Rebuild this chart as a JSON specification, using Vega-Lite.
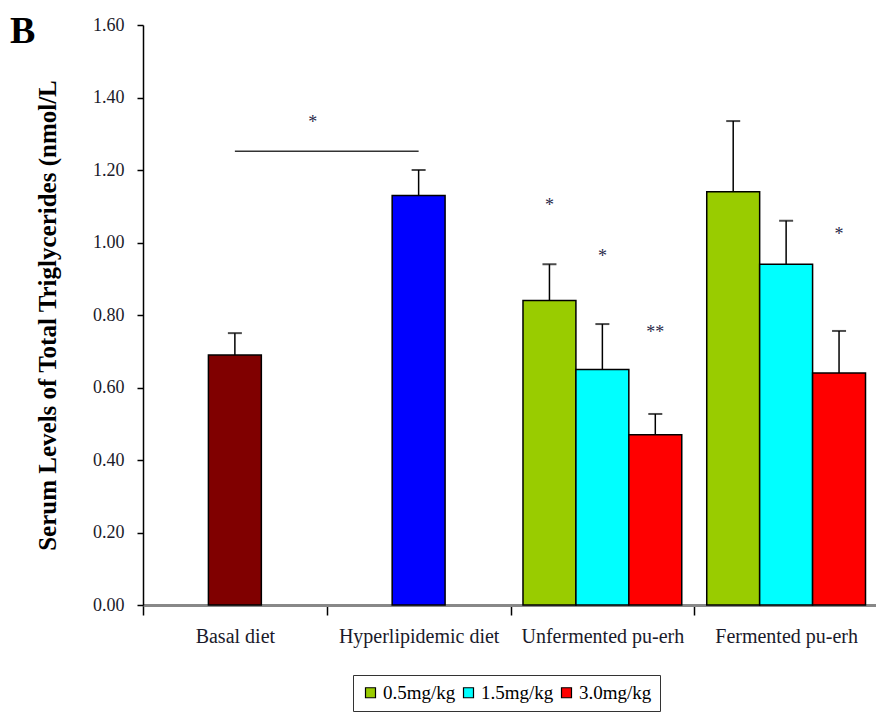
{
  "$schema": "https://vega.github.io/schema/vega-lite/v6.json",
  "width": 735,
  "height": 580,
  "autosize": {"type": "none"},
  "padding": {"left": 143, "top": 25, "right": 0, "bottom": 111},
  "background": "white",
  "title": {"text": "B", "font": "Liberation Serif", "fontSize": 38, "fontWeight": "bold", "anchor": "start", "frame": "group", "dx": -133, "offset": -73, "baseline": "bottom", "color": "#000"},
  "config": {
    "view": {"stroke": null},
    "font": "Liberation Serif",
    "axis": {"labelFont": "Liberation Serif", "titleFont": "Liberation Serif", "labelColor": "#1a1a2a", "grid": false}
  },
  "datasets": {
    "bars": [
      {"group": "Basal diet", "slot": "b", "series": "Basal", "value": 0.69, "upper": 0.75},
      {"group": "Hyperlipidemic diet", "slot": "b", "series": "Hyper", "value": 1.13, "upper": 1.2},
      {"group": "Unfermented pu-erh", "slot": "a", "series": "0.5mg/kg", "value": 0.84, "upper": 0.94},
      {"group": "Unfermented pu-erh", "slot": "b", "series": "1.5mg/kg", "value": 0.65, "upper": 0.775},
      {"group": "Unfermented pu-erh", "slot": "c", "series": "3.0mg/kg", "value": 0.47, "upper": 0.527},
      {"group": "Fermented pu-erh", "slot": "a", "series": "0.5mg/kg", "value": 1.14, "upper": 1.335},
      {"group": "Fermented pu-erh", "slot": "b", "series": "1.5mg/kg", "value": 0.94, "upper": 1.06},
      {"group": "Fermented pu-erh", "slot": "c", "series": "3.0mg/kg", "value": 0.64, "upper": 0.756}
    ],
    "stars": [
      {"group": "Unfermented pu-erh", "slot": "a", "label": "*", "y": 1.1},
      {"group": "Unfermented pu-erh", "slot": "b", "label": "*", "y": 0.96},
      {"group": "Unfermented pu-erh", "slot": "c", "label": "**", "y": 0.75},
      {"group": "Fermented pu-erh", "slot": "c", "label": "*", "y": 1.02}
    ],
    "bracket": [
      {"from": "Basal diet", "to": "Hyperlipidemic diet", "y": 1.252, "label": "*", "ly": 1.33}
    ]
  },
  "layer": [
    {
      "data": {"name": "bars"},
      "mark": {"type": "bar", "stroke": "#000", "strokeWidth": 1.5},
      "encoding": {
        "x": {"field": "group", "type": "nominal",
          "scale": {"domain": ["Basal diet", "Hyperlipidemic diet", "Unfermented pu-erh", "Fermented pu-erh"], "paddingInner": 0, "paddingOuter": 0},
          "axis": {"title": null, "labelAngle": 0, "labelFontSize": 20, "labelPadding": 11, "tickBand": "extent", "tickSize": 10, "tickColor": "#000", "tickWidth": 1.5, "domainColor": "#888", "domainWidth": 3, "labelColor": "#1a1a2a"}},
        "xOffset": {"field": "slot", "type": "nominal", "scale": {"domain": ["a", "b", "c"], "paddingInner": 0, "paddingOuter": 0.236}},
        "y": {"field": "value", "type": "quantitative",
          "scale": {"domain": [0, 1.6], "nice": false},
          "axis": {"title": "Serum Levels of Total Triglycerides (nmol/L", "titleFontSize": 25, "titleFontWeight": "bold", "titleColor": "#000", "titlePadding": 32,
            "values": [0, 0.2, 0.4, 0.6, 0.8, 1.0, 1.2, 1.4, 1.6], "format": ".2f", "labelFontSize": 18, "labelPadding": 13,
            "tickSize": 6, "tickColor": "#000", "tickWidth": 1.5, "domainColor": "#000", "domainWidth": 1.5}},
        "color": {"field": "series", "type": "nominal",
          "scale": {"domain": ["Basal", "Hyper", "0.5mg/kg", "1.5mg/kg", "3.0mg/kg"], "range": ["#800000", "#0000FF", "#99CC00", "#00FFFF", "#FF0000"]},
          "legend": {"values": ["0.5mg/kg", "1.5mg/kg", "3.0mg/kg"], "title": null, "orient": "none", "legendX": 210, "legendY": 650, "direction": "horizontal",
            "symbolType": "square", "symbolSize": 100, "symbolStrokeColor": "#000", "symbolStrokeWidth": 1.2, "labelFont": "Liberation Serif", "labelFontSize": 19, "labelColor": "#000",
            "strokeColor": "#333", "padding": 8, "columnPadding": 3, "symbolOffset": 0, "labelOffset": 3}}
      }
    },
    {
      "data": {"name": "bars"},
      "mark": {"type": "rule", "color": "#000", "strokeWidth": 1.5},
      "encoding": {
        "x": {"field": "group", "type": "nominal"},
        "xOffset": {"field": "slot", "type": "nominal"},
        "y": {"field": "value", "type": "quantitative"},
        "y2": {"field": "upper"}
      }
    },
    {
      "data": {"name": "bars"},
      "mark": {"type": "tick", "color": "#000", "thickness": 2, "size": 14, "orient": "horizontal"},
      "encoding": {
        "x": {"field": "group", "type": "nominal"},
        "xOffset": {"field": "slot", "type": "nominal"},
        "y": {"field": "upper", "type": "quantitative"}
      }
    },
    {
      "data": {"name": "stars"},
      "mark": {"type": "text", "font": "Liberation Serif", "fontSize": 18, "color": "#2a2a4a", "baseline": "middle"},
      "encoding": {
        "x": {"field": "group", "type": "nominal"},
        "xOffset": {"field": "slot", "type": "nominal"},
        "y": {"field": "y", "type": "quantitative"},
        "text": {"field": "label"}
      }
    },
    {
      "data": {"name": "bracket"},
      "mark": {"type": "rule", "color": "#333", "strokeWidth": 1.5},
      "encoding": {
        "x": {"field": "from", "type": "nominal"},
        "x2": {"field": "to"},
        "y": {"field": "y", "type": "quantitative"}
      }
    },
    {
      "data": {"name": "bracket"},
      "mark": {"type": "text", "font": "Liberation Serif", "fontSize": 18, "color": "#2a2a4a", "baseline": "middle", "dx": -14},
      "encoding": {
        "x": {"field": "to", "type": "nominal", "bandPosition": 0},
        "y": {"field": "ly", "type": "quantitative"},
        "text": {"field": "label"}
      }
    }
  ]
}
